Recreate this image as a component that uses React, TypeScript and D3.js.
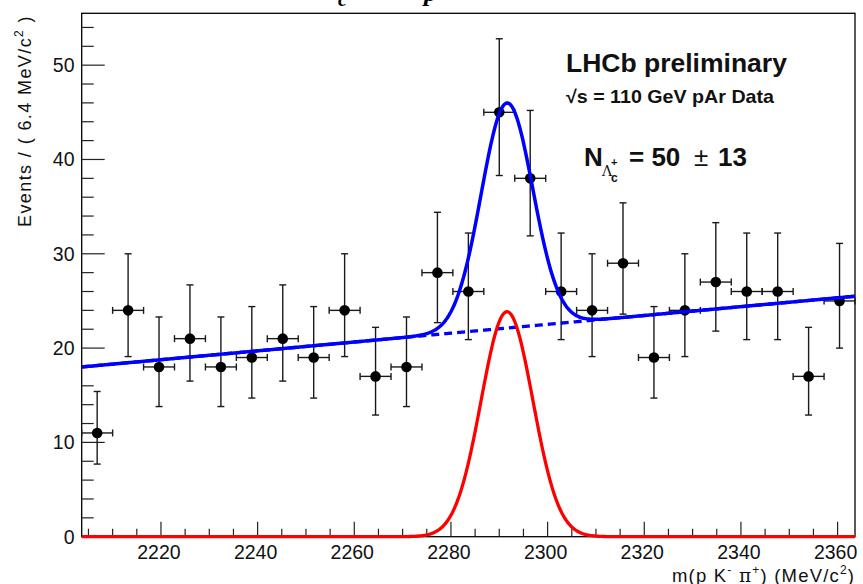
import React from 'react';
import * as d3 from 'd3';

// ---- data ----
const binCenters = [2206.8, 2213.2, 2219.6, 2226.0, 2232.4, 2238.8, 2245.2, 2251.6, 2258.0, 2264.4, 2270.8, 2277.2, 2283.6, 2290.0, 2296.4, 2302.8, 2309.2, 2315.6, 2322.0, 2328.4, 2334.8, 2341.2, 2347.6, 2354.0, 2360.4];
const counts = [11, 24, 18, 21, 18, 19, 21, 19, 24, 17, 18, 28, 26, 45, 38, 26, 24, 29, 19, 24, 27, 26, 26, 17, 25];
const errLow = [3.3, 4.9, 4.2, 4.5, 4.2, 4.3, 4.5, 4.3, 4.9, 4.1, 4.2, 5.3, 5.1, 6.7, 6.1, 5.1, 4.9, 5.4, 4.3, 4.9, 5.2, 5.1, 5.1, 4.1, 5.0];
const errHigh = [4.4, 6.0, 5.3, 5.7, 5.3, 5.4, 5.7, 5.4, 6.0, 5.2, 5.3, 6.4, 6.2, 7.8, 7.2, 6.2, 6.0, 6.4, 5.4, 6.0, 6.3, 6.2, 6.2, 5.2, 6.1];
const binWidth = 6.4;

// fit parameters
const massRange = [2203.6, 2363.6];
const sigMean = 2291.6;
const sigSigma = 5.35;
const sigYield = 50;
const bgAtLow = 18.0;
const bgAtHigh = 25.5;

const xMajorTicks = [2220, 2240, 2260, 2280, 2300, 2320, 2340, 2360];
const yMajorTicks = [0, 10, 20, 30, 40, 50];

const FONT = "'Liberation Sans', Arial, Helvetica, sans-serif";

export default function App() {
  const W = 863, H = 584;
  const L = 81.7, R = 855, T = 13.3, B = 536.7;
  const x = d3.scaleLinear().domain(massRange).range([L, R]);
  const y = d3.scaleLinear().domain([0, 55.5]).range([B, T]);

  const bg = (m: number) => bgAtLow + (bgAtHigh - bgAtLow) * (m - massRange[0]) / (massRange[1] - massRange[0]);
  const sig = (m: number) => sigYield * binWidth / (sigSigma * Math.sqrt(2 * Math.PI)) * Math.exp(-0.5 * ((m - sigMean) / sigSigma) ** 2);
  const grid = d3.range(0, 801).map(i => massRange[0] + (massRange[1] - massRange[0]) * i / 800);

  const bgPath = d3.line<number>().x(m => x(m)).y(m => y(bg(m)))(grid) || '';
  const sigPath = d3.line<number>().x(m => x(m)).y(m => y(sig(m)))(grid) || '';
  const totPath = d3.line<number>().x(m => x(m)).y(m => y(bg(m) + sig(m)))(grid) || '';

  const xMinor = d3.range(2205, 2364, 5).filter(v => !xMajorTicks.includes(v));
  const yMinor = d3.range(0, 56, 2).filter(v => !yMajorTicks.includes(v));

  const ebColor = '#1a1a1a';
  const cap = 3.5;

  return (
    <svg width={W} height={H} viewBox={`0 0 ${W} ${H}`}
      style={{ position: 'absolute', left: 0, top: 0, background: '#fff' }}
      fontFamily={FONT}>
      <defs>
        <clipPath id="plotClip">
          <rect x={L} y={T} width={R - L} height={B - T + 3} />
        </clipPath>
      </defs>
      <rect x={0} y={0} width={W} height={H} fill="#fff" />

      {/* title remnant, cut at the top edge as in the reference */}
      <text fontFamily="'Liberation Serif', 'Times New Roman', serif" fontWeight="bold" fontStyle="italic" fill="#000">
        <tspan x={338} y={6} fontSize={20}>c</tspan>
        <tspan x={424} y={1} fontSize={26}>p</tspan>
      </text>

      {/* frame */}
      <rect x={L} y={T} width={R - L} height={B - T} fill="none" stroke="#000" strokeWidth={1.3} />

      {/* x ticks */}
      {xMajorTicks.map(v => (
        <line key={'xM' + v} x1={x(v)} x2={x(v)} y1={B} y2={B - 15} stroke="#222" strokeWidth={1.2} />
      ))}
      {xMinor.map(v => (
        <line key={'xm' + v} x1={x(v)} x2={x(v)} y1={B} y2={B - 8} stroke="#222" strokeWidth={1.2} />
      ))}
      {xMajorTicks.map(v => (
        <text key={'xl' + v} x={x(v) - 2} y={558.5} fontSize={19.5} textAnchor="middle" fill="#111">{v}</text>
      ))}

      {/* y ticks */}
      {yMajorTicks.map(v => (
        <line key={'yM' + v} x1={L} x2={L + 23} y1={y(v)} y2={y(v)} stroke="#222" strokeWidth={1.2} />
      ))}
      {yMinor.map(v => (
        <line key={'ym' + v} x1={L} x2={L + 12} y1={y(v)} y2={y(v)} stroke="#222" strokeWidth={1.2} />
      ))}
      {yMajorTicks.map(v => (
        <text key={'yl' + v} x={74.5} y={y(v) + 7} fontSize={19.5} textAnchor="end" fill="#111">{v}</text>
      ))}

      {/* axis titles */}
      <text x={672} y={581.5} fontSize={18.5} letterSpacing={1.2} fill="#111">
        m(p K<tspan dy={-8} fontSize={12}>-</tspan><tspan dy={8}> </tspan>
        <tspan fontFamily="'DejaVu Serif', serif">π</tspan>
        <tspan dy={-8} fontSize={12}>+</tspan><tspan dy={8}>) (MeV/c</tspan>
        <tspan dy={-8} fontSize={12}>2</tspan><tspan dy={8}>)</tspan>
      </text>
      <text transform="translate(31,227) rotate(-90)" fontSize={18} letterSpacing={1.4} fill="#111">
        Events / ( 6.4 MeV/c<tspan dy={-8} fontSize={12}>2</tspan><tspan dy={8}> )</tspan>
      </text>

      {/* data points */}
      {binCenters.map((m, i) => {
        const cx = x(m), cy = y(counts[i]);
        const yt = y(counts[i] + errHigh[i]), yb = y(counts[i] - errLow[i]);
        const xl = x(m - binWidth / 2), xr = x(m + binWidth / 2);
        return (
          <g key={'p' + i} stroke={ebColor} strokeWidth={1.4}>
            <line x1={cx} x2={cx} y1={yt} y2={yb} />
            <line x1={cx - cap} x2={cx + cap} y1={yt} y2={yt} />
            <line x1={cx - cap} x2={cx + cap} y1={yb} y2={yb} />
            <line x1={xl} x2={xr} y1={cy} y2={cy} />
            <line x1={xl} x2={xl} y1={cy - cap} y2={cy + cap} />
            <line x1={xr} x2={xr} y1={cy - cap} y2={cy + cap} />
            <circle cx={cx} cy={cy} r={5.3} fill="#000" stroke="none" />
          </g>
        );
      })}

      {/* fit curves */}
      <g clipPath="url(#plotClip)" fill="none">
        <path d={bgPath} stroke="#0000ff" strokeWidth={3.3} strokeDasharray="8 5" />
        <path d={sigPath} stroke="#ff0000" strokeWidth={3.3} />
        <path d={totPath} stroke="#0000ff" strokeWidth={3.5} />
      </g>

      {/* legend text */}
      <text x={566} y={72} fontSize={26.5} fontWeight="bold" fill="#111">LHCb preliminary</text>
      <text x={566} y={102.5} fontSize={18.6} fontWeight="bold" textLength={208} lengthAdjust="spacingAndGlyphs" fill="#111">√s = 110 GeV pAr Data</text>
      <g fill="#111">
        <text x={584} y={166} fontSize={26} fontWeight="bold">N</text>
        <text x={602} y={176} fontSize={14} fontFamily="'DejaVu Serif', serif">Λ</text>
        <text x={611} y={182} fontSize={12} fontWeight="bold">c</text>
        <text x={611} y={166} fontSize={11} fontWeight="bold">+</text>
        <text x={629} y={166} fontSize={26} fontWeight="bold">= 50</text>
        <text x={694} y={166} fontSize={26}>±</text>
        <text x={718} y={166} fontSize={26} fontWeight="bold">13</text>
      </g>
    </svg>
  );
}
